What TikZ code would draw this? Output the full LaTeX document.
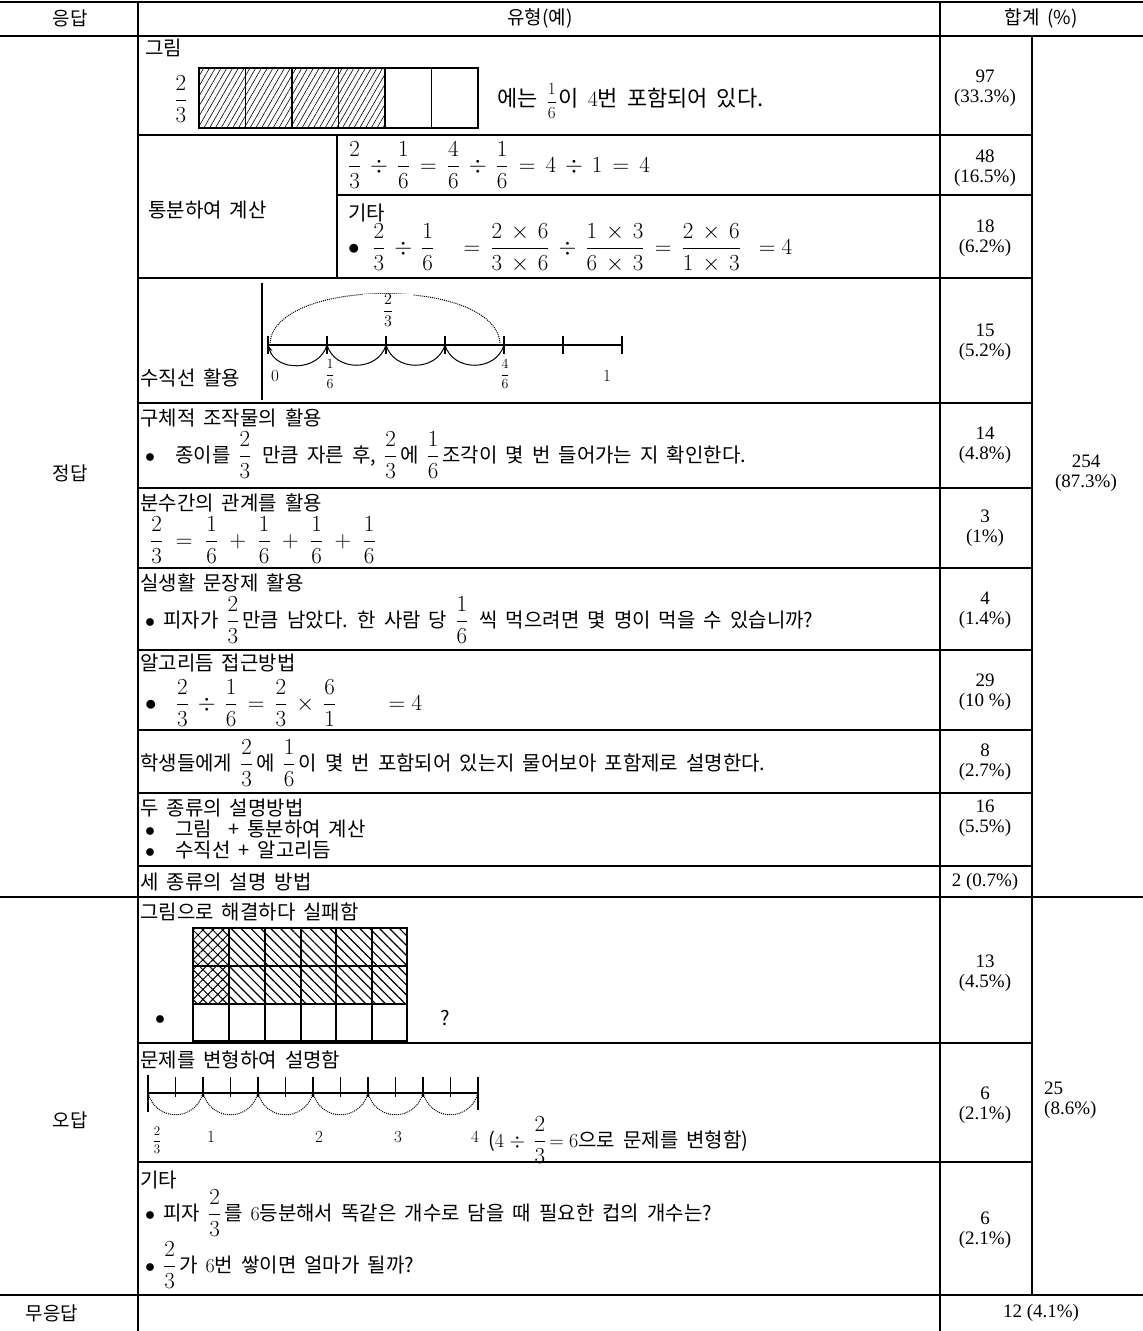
\RequirePackage{fix-cm}
\documentclass[tikz,border=0pt]{standalone}
\usepackage{amsmath}
\usepackage{amssymb}
\usepackage{fontspec}
\setmainfont{Liberation Serif}
\newfontfamily\kr[WordSpace=1.8]{Noto Sans CJK KR}
\usetikzlibrary{patterns.meta,arrows.meta}
\newcommand\fr[2]{{\fontsize{23}{26}\selectfont$\dfrac{#1}{#2}$}\hspace{3pt}}

\begin{document}
\begin{tikzpicture}[x=1pt, y=-1pt,
  txt/.style = {anchor=west, inner sep=0pt, font=\kr\fontsize{20}{24}\selectfont},
  mth/.style = {anchor=west, inner sep=0pt, font=\fontsize{23}{26}\selectfont},
  hd/.style = {inner sep=0pt, font=\kr\fontsize{19}{22}\selectfont},
  cnt/.style = {align=center, inner sep=0pt, font=\fontsize{19}{20}\selectfont},
  tck/.style = {inner sep=0pt, font=\fontsize{17}{17}\selectfont},
  rule/.style = {line width=1.3pt},
  bigrule/.style = {line width=2.4pt}]
\useasboundingbox (0,0) rectangle (1143,1331);

% table rules
\draw[bigrule] (0,2) -- (1143,2);
\draw[bigrule] (0,36) -- (1143,36);
\draw[bigrule] (0,897) -- (1143,897);
\draw[bigrule] (0,1295) -- (1143,1295);
\draw[rule] (138,2) -- (138,1331);
\draw[rule] (940,2) -- (940,1331);
\draw[rule] (1032,36) -- (1032,1295);
\foreach \y in {135,278,403,488,568,650,730,793,866,1043,1162}
  \draw[rule] (138,\y) -- (1032,\y);
\draw[rule] (337,195) -- (1032,195);
\draw[rule] (337,135) -- (337,278);
\draw[rule] (262,283) -- (262,400);

% header
\node[hd] (hresp) at (70,18) {응답};
\node[hd] (htype) at (540,18) {유형(예)};
\node[hd] (hsum) at (1041,18) {합계 (\%)};
\node[hd] (right) at (70,473) {정답};
\node[hd] (wrong) at (70,1120) {오답};
\node[hd] (none) at (52,1313) {무응답};

% row: 그림
\node[txt] (grim) at (145,48) {그림};
\node[inner sep=0pt, font=\fontsize{23}{26}\selectfont] (fgrim) at (181,99) {$\dfrac{2}{3}$};
\fill[pattern={Lines[angle=60,distance=5pt,line width=0.6pt]}] (199,68) rectangle (385,128);
\draw[rule] (199,68) rectangle (478,128);
\foreach \x in {245.5,292,338.5,385,431.5}
  \draw[rule] (\x,68) -- (\x,128);
\node[txt, font=\kr\fontsize{22}{26}\selectfont] (tgrim) at (497,101) {에는 {\fontsize{17}{17}\selectfont$\dfrac{1}{6}$}\hspace{2pt}이 $4$번 포함되어 있다.};

% row: 통분
\node[txt] (tongbun) at (148,210) {통분하여 계산};
\node[mth] (eqa) at (348,165) {$\dfrac{2}{3} \,\div\, \dfrac{1}{6} \,=\, \dfrac{4}{6} \,\div\, \dfrac{1}{6} \,=\, 4 \,\div\, 1 \,=\, 4$};
\node[txt] (gitaa) at (348,213) {기타};
\node[mth] (eqb) at (348,248) {$\bullet\;\; \dfrac{2}{3} \,\div\, \dfrac{1}{6} \quad = \,\dfrac{2\,\times\,6}{3\,\times\,6} \,\div\, \dfrac{1\,\times\,3}{6\,\times\,3} \,=\, \dfrac{2\,\times\,6}{1\,\times\,3} \ \ = 4$};

% row: 수직선
\node[txt] (sujik) at (140,378) {수직선 활용};
\draw[rule] (268,345) -- (622,345);
\foreach \k in {0,...,6}
  \draw[rule] (268+59*\k,336) -- (268+59*\k,354);
\draw[line width=1pt, {Stealth[length=7pt]}-] (268,345) .. controls (276,372) and (319,372) .. (327,345);
\foreach \k in {1,2,3}
  \draw[line width=1pt] (268+59*\k,345) .. controls (276+59*\k,372) and (319+59*\k,372) .. (327+59*\k,345);
\draw[line width=1pt, densely dotted] (270,343) .. controls (275,277) and (495,277) .. (500,343);
\node[tck, fill=white, inner xsep=20pt, font=\fontsize{16}{16}\selectfont] (two3) at (388,310) {$\dfrac{2}{3}$};
\node[tck] (zero) at (275,376) {$0$};
\node[tck, font=\fontsize{14}{14}\selectfont] (sixth) at (330,374) {$\dfrac{1}{6}$};
\node[tck, font=\fontsize{14}{14}\selectfont] (foursix) at (505,374) {$\dfrac{4}{6}$};
\node[tck] (one) at (607,376) {$1$};

% row: 구체적
\node[txt] (guche) at (140,418) {구체적 조작물의 활용};
\node[txt] (gucheb) at (145,455) {$\bullet$\quad 종이를 \fr{2}{3} 만큼 자른 후, \fr{2}{3}에 \fr{1}{6}조각이 몇 번 들어가는 지 확인한다.};

% row: 분수간
\node[txt] (bunsu) at (140,503) {분수간의 관계를 활용};
\node[mth] (eqc) at (150,540) {$\dfrac{2}{3} \;=\; \dfrac{1}{6} \;+\; \dfrac{1}{6} \;+\; \dfrac{1}{6} \;+\; \dfrac{1}{6}$};

% row: 실생활
\node[txt] (silsaeng) at (140,583) {실생활 문장제 활용};
\node[txt] (pizza) at (145,620) {$\bullet$ 피자가 \fr{2}{3}만큼 남았다. 한 사람 당 \fr{1}{6} 씩 먹으려면 몇 명이 먹을 수 있습니까?};

% row: 알고리듬
\node[txt] (algo) at (140,663) {알고리듬 접근방법};
\node[mth] (eqd) at (145,703) {$\bullet\;\;\; \dfrac{2}{3} \,\div\, \dfrac{1}{6} \,=\, \dfrac{2}{3} \,\times\, \dfrac{6}{1} \qquad = 4$};

% row: 학생들에게
\node[txt] (haksaeng) at (140,763) {학생들에게 \fr{2}{3}에 \fr{1}{6}이 몇 번 포함되어 있는지 물어보아 포함제로 설명한다.};

% row: 두 종류 / 세 종류
\node[txt] (du) at (140,808) {두 종류의 설명방법};
\node[txt] (dua) at (145,829) {$\bullet$\quad 그림 \ + 통분하여 계산};
\node[txt] (dub) at (145,850) {$\bullet$\quad 수직선 + 알고리듬};
\node[txt] (se) at (140,882) {세 종류의 설명 방법};

% row: 그림으로 실패
\node[txt] (fail) at (140,912) {그림으로 해결하다 실패함};
\fill[pattern={Hatch[angle=45,distance=7pt,line width=1pt]}] (193,928) rectangle (229,1004);
\fill[pattern={Lines[angle=-45,distance=7pt,line width=1.2pt]}] (229,928) rectangle (407,1004);
\draw[rule] (193,928) rectangle (407,1041);
\foreach \x in {229,265,301,336,372}
  \draw[rule] (\x,928) -- (\x,1041);
\foreach \y in {966,1004}
  \draw[rule] (193,\y) -- (407,\y);
\node[txt] (failb) at (155,1020) {$\bullet$};
\node[txt] (q) at (440,1018) {?};

% row: 문제를 변형
\node[txt] (byun) at (140,1060) {문제를 변형하여 설명함};
\draw[rule] (148,1075) -- (148,1112);
\draw[rule] (148,1093) -- (478,1093);
\foreach \k in {1,...,11}
  \draw[rule] (148+27.5*\k,1077) -- (148+27.5*\k,1097);
\draw[rule] (478,1077) -- (478,1110);
\foreach \k in {0,...,5}
  \draw[line width=1pt, densely dotted] (148+55*\k,1093) .. controls (156+55*\k,1122) and (195+55*\k,1122) .. (203+55*\k,1093);
\node[tck, font=\fontsize{13}{13}\selectfont] (nla) at (157,1140) {$\dfrac{2}{3}$};
\node[tck] (nlb) at (211,1137) {$1$};
\node[tck] (nlc) at (319,1137) {$2$};
\node[tck] (nld) at (398,1137) {$3$};
\node[tck] (nle) at (475,1137) {$4$};
\node[txt] (byunb) at (488,1140) {($4 \;\div$ \fr{2}{3}$= 6$으로 문제를 변형함)};

% row: 기타
\node[txt] (gitab) at (140,1180) {기타};
\node[txt] (gitac) at (145,1213) {$\bullet$ 피자 \fr{2}{3}를 $6$등분해서 똑같은 개수로 담을 때 필요한 컵의 개수는?};
\node[txt] (gitad) at (145,1265) {$\bullet$ \fr{2}{3}가 $6$번 쌓이면 얼마가 될까?};

% counts
\node[cnt] (ca) at (985,88) {97\\(33.3\%)};
\node[cnt] (cb) at (985,168) {48\\(16.5\%)};
\node[cnt] (cc) at (985,238) {18\\(6.2\%)};
\node[cnt] (cd) at (985,342) {15\\(5.2\%)};
\node[cnt] (ce) at (985,445) {14\\(4.8\%)};
\node[cnt] (cf) at (985,528) {3\\(1\%)};
\node[cnt] (cg) at (985,610) {4\\(1.4\%)};
\node[cnt] (ch) at (985,692) {29\\(10 \%)};
\node[cnt] (ci) at (985,762) {8\\(2.7\%)};
\node[cnt] (cj) at (985,818) {16\\(5.5\%)};
\node[cnt] (ck) at (985,882) {2 (0.7\%)};
\node[cnt] (cl) at (985,973) {13\\(4.5\%)};
\node[cnt] (cm) at (985,1105) {6\\(2.1\%)};
\node[cnt] (cn) at (985,1230) {6\\(2.1\%)};
\node[cnt] (sright) at (1086,473) {254\\(87.3\%)};
\node[cnt, anchor=west, align=left] (swrong) at (1044,1100) {25\\(8.6\%)};
\node[cnt] (snone) at (1041,1313) {12 (4.1\%)};
\end{tikzpicture}
\end{document}
